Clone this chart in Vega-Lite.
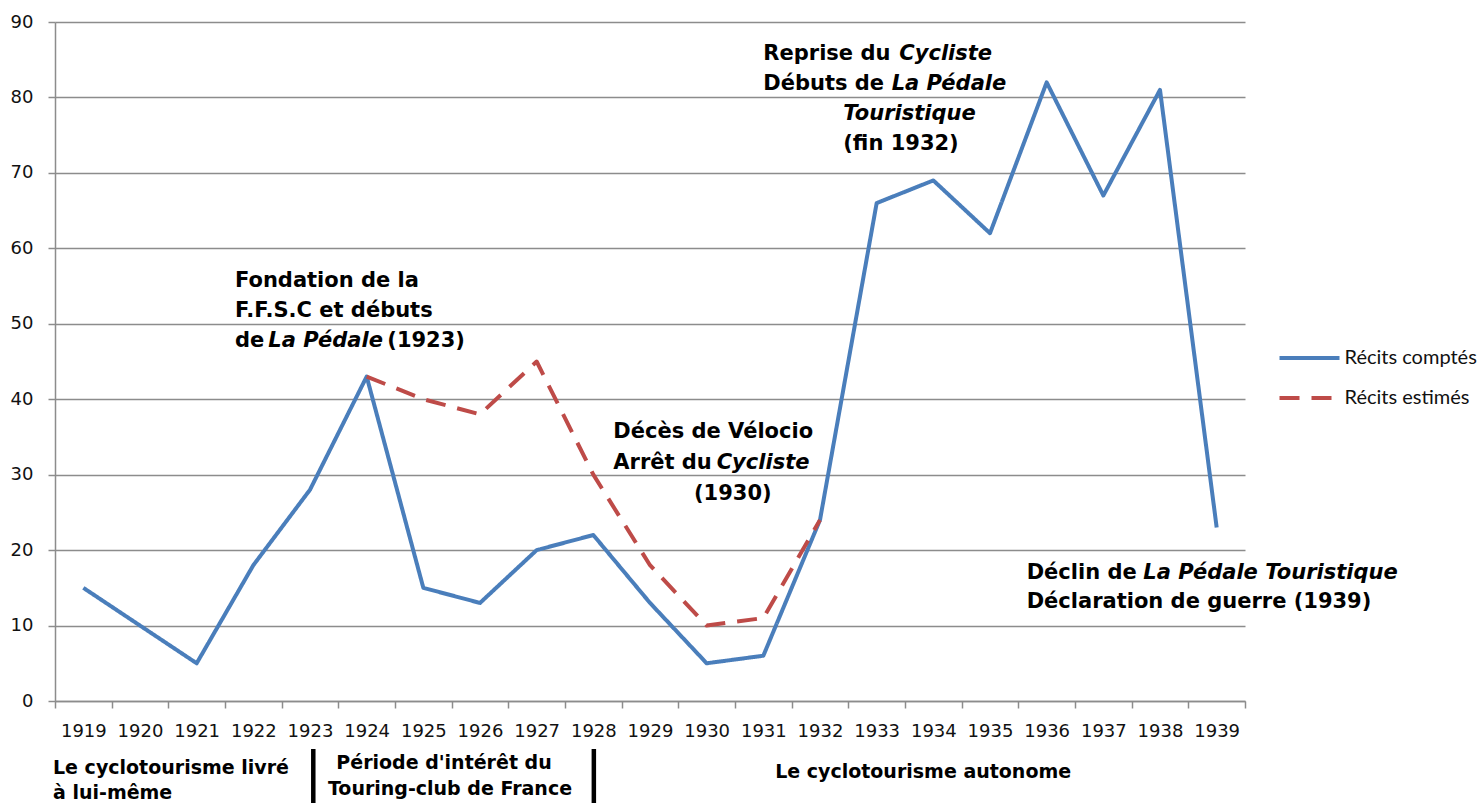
{
  "$schema": "https://vega.github.io/schema/vega-lite/v6.json",
  "width": 1190,
  "height": 679,
  "autosize": {"type": "none"},
  "padding": {"left": 55, "top": 22, "right": 237, "bottom": 102},
  "background": "white",
  "config": {"view": {"stroke": null}},
  "datasets": {
    "series": [
      {"year": 1919, "value": 15, "series": "Récits comptés"},
      {"year": 1920, "value": 10, "series": "Récits comptés"},
      {"year": 1921, "value": 5, "series": "Récits comptés"},
      {"year": 1922, "value": 18, "series": "Récits comptés"},
      {"year": 1923, "value": 28, "series": "Récits comptés"},
      {"year": 1924, "value": 43, "series": "Récits comptés"},
      {"year": 1925, "value": 15, "series": "Récits comptés"},
      {"year": 1926, "value": 13, "series": "Récits comptés"},
      {"year": 1927, "value": 20, "series": "Récits comptés"},
      {"year": 1928, "value": 22, "series": "Récits comptés"},
      {"year": 1929, "value": 13, "series": "Récits comptés"},
      {"year": 1930, "value": 5, "series": "Récits comptés"},
      {"year": 1931, "value": 6, "series": "Récits comptés"},
      {"year": 1932, "value": 24, "series": "Récits comptés"},
      {"year": 1933, "value": 66, "series": "Récits comptés"},
      {"year": 1934, "value": 69, "series": "Récits comptés"},
      {"year": 1935, "value": 62, "series": "Récits comptés"},
      {"year": 1936, "value": 82, "series": "Récits comptés"},
      {"year": 1937, "value": 67, "series": "Récits comptés"},
      {"year": 1938, "value": 81, "series": "Récits comptés"},
      {"year": 1939, "value": 23, "series": "Récits comptés"},
      {"year": 1924, "value": 43, "series": "Récits estimés"},
      {"year": 1925, "value": 40, "series": "Récits estimés"},
      {"year": 1926, "value": 38, "series": "Récits estimés"},
      {"year": 1927, "value": 45, "series": "Récits estimés"},
      {"year": 1928, "value": 30, "series": "Récits estimés"},
      {"year": 1929, "value": 18, "series": "Récits estimés"},
      {"year": 1930, "value": 10, "series": "Récits estimés"},
      {"year": 1931, "value": 11, "series": "Récits estimés"},
      {"year": 1932, "value": 24, "series": "Récits estimés"}
    ],
    "notes": [
      {"text": "Fondation de la", "x": 1921.676, "y": 54.88},
      {"text": "F.F.S.C et débuts", "x": 1921.676, "y": 50.9},
      {"text": "de", "x": 1921.676, "y": 46.92},
      {"text": "(1923)", "x": 1924.364, "y": 46.92},
      {"text": "Reprise du", "x": 1931.0, "y": 84.97},
      {"text": "Débuts de", "x": 1931.0, "y": 81.0},
      {"text": "(fin 1932)", "x": 1932.41, "y": 73.04},
      {"text": "Décès de Vélocio", "x": 1928.352, "y": 34.82},
      {"text": "Arrêt du", "x": 1928.352, "y": 30.71},
      {"text": "(1930)", "x": 1929.776, "y": 26.64},
      {"text": "Déclin de", "x": 1935.647, "y": 16.13},
      {"text": "Déclaration de guerre (1939)", "x": 1935.647, "y": 12.33}
    ],
    "notes_italic": [
      {"text": "La Pédale", "x": 1922.264, "y": 46.92},
      {"text": "Cycliste", "x": 1933.4, "y": 84.97},
      {"text": "La Pédale", "x": 1933.265, "y": 81.0},
      {"text": "Touristique", "x": 1932.41, "y": 77.01},
      {"text": "Cycliste", "x": 1930.177, "y": 30.71},
      {"text": "La Pédale Touristique", "x": 1937.705, "y": 16.13}
    ],
    "periods_left": [
      {"text": "Le cyclotourisme livré", "x": 1918.465, "y": -9.7},
      {"text": "à lui-même", "x": 1918.465, "y": -13.0}
    ],
    "periods_center": [
      {"text": "Période d'intérêt du", "x": 1925.365, "y": -8.95},
      {"text": "Touring-club de France", "x": 1925.47, "y": -12.46},
      {"text": "Le cyclotourisme autonome", "x": 1933.82, "y": -10.2}
    ],
    "separators": [
      {"x": 1923.058, "top": -6.36, "bottom": -14},
      {"x": 1928.009, "top": -6.36, "bottom": -14}
    ]
  },
  "layer": [
    {
      "data": {"name": "series"},
      "mark": {"type": "line", "strokeWidth": 4, "strokeJoin": "round"},
      "encoding": {
        "x": {
          "field": "year",
          "type": "quantitative",
          "scale": {"domain": [1918.5, 1939.5], "nice": false, "zero": false},
          "axis": {
            "title": null,
            "grid": false,
            "values": [1918.5, 1919.5, 1920.5, 1921.5, 1922.5, 1923.5, 1924.5, 1925.5, 1926.5, 1927.5, 1928.5, 1929.5, 1930.5, 1931.5, 1932.5, 1933.5, 1934.5, 1935.5, 1936.5, 1937.5, 1938.5, 1939.5],
            "labelExpr": "datum.value < 1939 ? format(datum.value + 0.5, 'd') : ''",
            "labelOffset": 28.33,
            "labelOverlap": false,
            "labelFlush": false,
            "labelBound": false,
            "labelFont": "DejaVu Sans",
            "labelFontSize": 18,
            "labelColor": "#111111",
            "labelPadding": 14,
            "domainColor": "#8c8c8c",
            "domainWidth": 1.5,
            "tickColor": "#8c8c8c",
            "tickWidth": 1.5,
            "tickSize": 7
          }
        },
        "y": {
          "field": "value",
          "type": "quantitative",
          "scale": {"domain": [0, 90], "nice": false, "zero": false},
          "axis": {
            "title": null,
            "values": [0, 10, 20, 30, 40, 50, 60, 70, 80, 90],
            "grid": true,
            "gridColor": "#8c8c8c",
            "gridWidth": 1.5,
            "domainColor": "#8c8c8c",
            "domainWidth": 1.5,
            "tickColor": "#8c8c8c",
            "tickWidth": 1.5,
            "tickSize": 7,
            "labelFont": "DejaVu Sans",
            "labelFontSize": 18,
            "labelColor": "#111111",
            "labelPadding": 15,
            "labelFlush": false
          }
        },
        "color": {
          "field": "series",
          "type": "nominal",
          "scale": {"domain": ["Récits comptés", "Récits estimés"], "range": ["#4A7EBB", "#BE4B48"]},
          "legend": {
            "title": null,
            "orient": "none",
            "legendX": 1237.5,
            "legendY": 319,
            "symbolType": "M-2,0H2",
            "symbolSize": 900,
            "symbolStrokeWidth": 4,
            "labelFont": "Lato",
            "labelFontSize": 20,
            "labelColor": "#111111",
            "labelOffset": 18,
            "rowPadding": 13,
            "padding": 0
          }
        },
        "strokeDash": {
          "field": "series",
          "type": "nominal",
          "scale": {"domain": ["Récits comptés", "Récits estimés"], "range": [[1, 0], [20, 12]]},
          "legend": {
            "title": null,
            "orient": "none",
            "legendX": 1237.5,
            "legendY": 319,
            "symbolType": "M-2,0H2",
            "symbolSize": 900,
            "symbolStrokeWidth": 4,
            "labelFont": "Lato",
            "labelFontSize": 20,
            "labelColor": "#111111",
            "labelOffset": 18,
            "rowPadding": 13,
            "padding": 0
          }
        }
      }
    },
    {
      "data": {"name": "notes"},
      "mark": {"type": "text", "font": "DejaVu Sans", "fontWeight": "bold", "fontSize": 21, "align": "left", "baseline": "alphabetic", "color": "#000000"},
      "encoding": {
        "x": {"field": "x", "type": "quantitative"},
        "y": {"field": "y", "type": "quantitative"},
        "text": {"field": "text"}
      }
    },
    {
      "data": {"name": "notes_italic"},
      "mark": {"type": "text", "font": "DejaVu Sans", "fontWeight": "bold", "fontStyle": "italic", "fontSize": 21, "align": "left", "baseline": "alphabetic", "color": "#000000"},
      "encoding": {
        "x": {"field": "x", "type": "quantitative"},
        "y": {"field": "y", "type": "quantitative"},
        "text": {"field": "text"}
      }
    },
    {
      "data": {"name": "periods_left"},
      "mark": {"type": "text", "font": "DejaVu Sans", "fontWeight": "bold", "fontSize": 19, "align": "left", "baseline": "alphabetic", "color": "#000000"},
      "encoding": {
        "x": {"field": "x", "type": "quantitative"},
        "y": {"field": "y", "type": "quantitative"},
        "text": {"field": "text"}
      }
    },
    {
      "data": {"name": "periods_center"},
      "mark": {"type": "text", "font": "DejaVu Sans", "fontWeight": "bold", "fontSize": 19, "align": "center", "baseline": "alphabetic", "color": "#000000"},
      "encoding": {
        "x": {"field": "x", "type": "quantitative"},
        "y": {"field": "y", "type": "quantitative"},
        "text": {"field": "text"}
      }
    },
    {
      "data": {"name": "separators"},
      "mark": {"type": "rule", "strokeWidth": 4.5, "color": "#000000"},
      "encoding": {
        "x": {"field": "x", "type": "quantitative"},
        "y": {"field": "top", "type": "quantitative"},
        "y2": {"field": "bottom"}
      }
    }
  ]
}
